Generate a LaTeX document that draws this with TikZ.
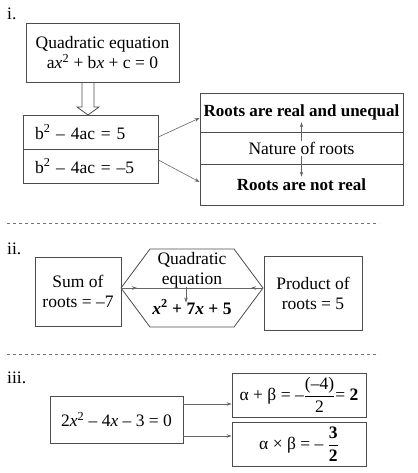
\documentclass[tikz,border=0pt]{standalone}
\usepackage{amsmath}
\usepackage{fontspec}
\setmainfont{Liberation Serif}
\usetikzlibrary{arrows.meta, positioning, calc}

\begin{document}
\begin{tikzpicture}[x=1pt, y=-1pt,
    every node/.style={font=\fontsize{17.5}{20}\selectfont},
    outline/.style={draw=black!70, line width=0.8pt},
    box/.style={outline, inner sep=0pt, align=center},
    row/.style={box, minimum width=203pt, inner xsep=1pt},
    link/.style={black!60, line width=0.6pt, -{Stealth[length=5pt, width=3.5pt]}},
    sep/.style={black!55, line width=0.7pt, dash pattern=on 3pt off 3pt},
    partno/.style={anchor=west, inner sep=0pt}]
    \useasboundingbox (0,0) rectangle (417,473);

    % Part i: discriminant and nature of roots
    \node[partno] (p1) at (7,14) {i.};
    \node[box, minimum width=153pt, minimum height=59pt] (quad) at (102.5,52.5)
        {Quadratic equation\\a\textit{x}\textsuperscript{2} + b\textit{x} + c = 0};
    \draw[outline] (82,82) -- (82,107) -- (77,107) -- (88,115) -- (99,107) -- (94,107) -- (94,82);
    \node[box, minimum width=135pt, minimum height=34pt, text width=111pt, align=left] (dpos) at (90.5,132)
        {b\textsuperscript{2} – 4ac = 5};
    \node[box, minimum width=135pt, minimum height=34pt, text width=111pt, align=left] (dneg) at (90.5,166)
        {b\textsuperscript{2} – 4ac = –5};
    \node[row, minimum height=39pt, font=\fontsize{17}{20}\selectfont\bfseries] (real) at (301.5,112.5)
        {Roots are real and unequal};
    \node[row, minimum height=32pt] (nat) at (301.5,148) {Nature of roots};
    \node[row, minimum height=41pt, font=\fontsize{17}{20}\selectfont\bfseries] (nreal) at (301.5,184.5)
        {Roots are not real};
    \draw[link] ([yshift=-9pt]nat.north) -- ([yshift=10pt]real.south);
    \draw[link] ([yshift=8pt]nat.south) -- ([yshift=-13pt]nreal.north);
    \draw[link] ([yshift=-5pt]dpos.east) -- ([yshift=-5.5pt]real.west);
    \draw[link] ([yshift=6pt]dneg.east) -- ([yshift=2.5pt]nreal.west);

    \draw[sep] (7,223) -- (379,223);

    % Part ii: sum and product from the equation
    \node[partno] (p2) at (7,249) {ii.};
    \node[box, minimum width=86pt, minimum height=69pt] (sum) at (78,291.5) {Sum of\\roots = –7};
    \node[box, minimum width=98pt, minimum height=74pt] (prod) at (313,293) {Product of\\roots = 5};
    \coordinate (hL) at (121,288);
    \coordinate (hR) at (263,288);
    \draw[outline] (hL) -- (150,249) -- (234,249) -- (hR) -- (234,327) -- (150,327) -- cycle;
    \node[align=center, inner sep=0pt] (qe) at (192,270.5) {Quadratic\\equation};
    \node[inner sep=0pt] (poly) at (192,307) {\textbf{\textit{x}\textsuperscript{2} + 7\textit{x} + 5}};
    \draw[black!60, line width=0.6pt] (hL) -- (hR);
    \draw[link] (hL) -- ([xshift=16pt]hL);
    \draw[link] (hR) -- ([xshift=-12pt]hR);
    \draw[link] ([xshift=-6pt,yshift=2pt]qe.south) -- ([xshift=-6pt,yshift=-3pt]poly.north);

    \draw[sep] (7,354) -- (379,354);

    % Part iii: worked example
    \node[partno] (p3) at (7,378) {iii.};
    \node[box, minimum width=133pt, minimum height=47pt] (eqn) at (116.5,419.5)
        {2\textit{x}\textsuperscript{2} – 4\textit{x} – 3 = 0};
    \node[box, minimum width=134pt, minimum height=44pt] (sumr) at (299,395)
        {α + β = –$\dfrac{\text{(–4)}}{\text{2}}$= \textbf{2}};
    \node[box, minimum width=134pt, minimum height=44pt] (prodr) at (299,444)
        {α × β = – $\dfrac{\textbf{3}}{\textbf{2}}$};
    \draw[link] ([yshift=15.5pt]eqn.east) -- ([yshift=-9pt]sumr.west);
    \draw[link] ([yshift=-16.5pt]eqn.east) -- ([yshift=8pt]prodr.west);
\end{tikzpicture}
\end{document}
